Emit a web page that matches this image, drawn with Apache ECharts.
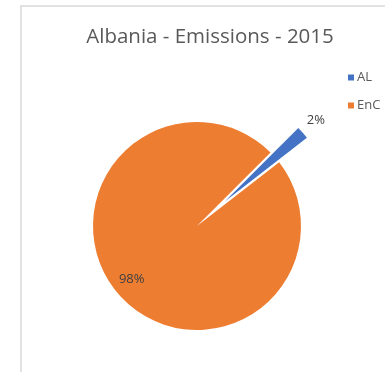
<!DOCTYPE html>
<html>
<head>
<meta charset="utf-8">
<script src="https://cdn.jsdelivr.net/npm/echarts@6/dist/echarts.min.js"></script>
<style>
  html, body { margin: 0; padding: 0; background: #ffffff; }
  #chart { width: 385px; height: 372px; }
</style>
</head>
<body>
<div id="chart"></div>
<script>
  // data
  const chartTitle = 'Albania - Emissions - 2015';
  const categories = ['AL', 'EnC'];
  const shares = [2, 98];
  const colors = ['#4472C4', '#ED7D31'];

  const chart = echarts.init(document.getElementById('chart'));

  const pieData = categories.map((name, i) => {
    const item = {
      name: name,
      value: shares[i],
      itemStyle: { color: colors[i] }
    };
    if (i === 0) {
      // exploded slice with label just outside
      item.selected = true;
      item.label = { position: 'outside' };
      item.labelLine = { show: false, length: 4, length2: 0 };
    } else {
      item.label = { position: 'inside' };
    }
    return item;
  });

  chart.setOption({
    animation: false,
    textStyle: { fontFamily: 'Open Sans' },
    title: {
      text: chartTitle,
      left: 205,
      top: 22,
      textAlign: 'center',
      textStyle: { fontSize: 20.5, fontWeight: 'normal', color: '#595959', fontFamily: 'Open Sans' }
    },
    legend: {
      orient: 'vertical',
      left: 343,
      top: 66,
      itemWidth: 6,
      itemHeight: 6,
      itemGap: 15,
      icon: 'rect',
      textStyle: { fontSize: 13, color: '#595959', padding: [0, 0, 0, -2] },
      data: categories
    },
    graphic: [{
      type: 'rect',
      shape: { x: 21, y: 6, width: 420, height: 420 },
      style: { fill: 'none', stroke: '#d9d9d9', lineWidth: 1.5 },
      silent: true
    }],
    series: [{
      type: 'pie',
      center: [197, 226],
      radius: 104,
      startAngle: 45,
      clockwise: true,
      selectedMode: 'single',
      selectedOffset: 37,
      label: {
        formatter: '{d}%',
        fontSize: 13,
        color: '#404040'
      },
      emphasis: { disabled: true },
      labelLayout: function (params) {
        if (params.dataIndex === 0) {
          return { dx: -4, dy: -10 };
        }
        return { dx: -24, dy: 17 };
      },
      data: pieData
    }]
  });
</script>
</body>
</html>
